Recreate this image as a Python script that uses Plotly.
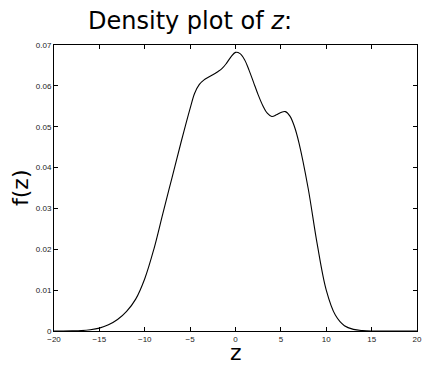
import plotly.graph_objects as go

# Estimated density f(z) sampled along z
z_vals = [-20, -19, -18, -17, -16, -15, -14, -13, -12, -11, -10, -9, -8, -7, -6,
          -5, -4.5, -4, -3.5, -3, -2.5, -2, -1.5, -1, -0.5, 0, 0.5, 1, 1.5, 2, 2.5,
          3, 3.5, 4, 4.5, 5, 5.5, 6, 6.5, 7, 8, 9, 10, 11, 12, 13, 14, 15, 16,
          17, 18, 19, 20]
f_vals = [0.0, 0.0, 0.00003, 0.0001, 0.0003, 0.0007, 0.0015, 0.0028, 0.0048, 0.0078,
          0.0128, 0.0200, 0.0288, 0.0375, 0.0462, 0.0545, 0.0582, 0.0603, 0.0614,
          0.0621, 0.0627, 0.0634, 0.0642, 0.0655, 0.0671, 0.0682, 0.0679, 0.0664,
          0.0638, 0.0608, 0.0578, 0.0552, 0.0533, 0.0525, 0.0529, 0.0535, 0.0537,
          0.0526, 0.0500, 0.0460, 0.0350, 0.0213, 0.0100, 0.0039, 0.0013, 0.0004,
          0.0001, 0.0, 0.0, 0.0, 0.0, 0.0, 0.0]

x_ticks = [-20, -15, -10, -5, 0, 5, 10, 15, 20]
y_ticks = [0, 0.01, 0.02, 0.03, 0.04, 0.05, 0.06, 0.07]
y_tick_text = ["0", "0.01", "0.02", "0.03", "0.04", "0.05", "0.06", "0.07"]
x_tick_text = ["\u221220", "\u221215", "\u221210", "\u22125", "0", "5", "10", "15", "20"]

W, H = 422, 365
ML, MR, MT, MB = 54, 5, 45, 34
plot_w = W - ML - MR
plot_h = H - MT - MB


def px_x(px):
    return (px - ML) / plot_w


def px_y(py):
    return (H - MB - py) / plot_h


fig = go.Figure()
fig.add_trace(go.Scatter(
    x=z_vals, y=f_vals, mode="lines",
    line=dict(color="black", width=1.1, shape="spline", smoothing=1.0),
    showlegend=False, hoverinfo="skip",
))

axis_common = dict(
    showgrid=False, zeroline=False, showline=True, linecolor="black", linewidth=1,
    mirror="ticks", ticks="inside", ticklen=4, tickcolor="black", tickwidth=1,
    automargin=False,
    tickfont=dict(family="Liberation Sans, Arial, sans-serif", size=8, color="#222"),
)

label_font = dict(family="DejaVu Sans, sans-serif", size=22, color="black")

fig.update_layout(
    width=W, height=H,
    margin=dict(l=ML, r=MR, t=MT, b=MB),
    paper_bgcolor="white", plot_bgcolor="white",
    xaxis=dict(range=[-20, 20], tickvals=x_ticks, ticktext=x_tick_text, **axis_common),
    yaxis=dict(range=[0, 0.07], tickvals=y_ticks, ticktext=y_tick_text, **axis_common),
    annotations=[
        dict(text="Density plot of <i>z</i>:", x=px_x(190), y=px_y(21),
             xref="paper", yref="paper", xanchor="center", yanchor="middle",
             showarrow=False,
             font=dict(family="DejaVu Sans, sans-serif", size=24, color="black")),
        dict(text="z", x=px_x(236), y=px_y(352), xref="paper", yref="paper",
             xanchor="center", yanchor="middle", showarrow=False, borderpad=0,
             font=label_font),
        dict(text="f(z)", x=px_x(20), y=px_y(188), xref="paper", yref="paper",
             xanchor="center", yanchor="middle", textangle=-90,
             showarrow=False, font=label_font),
    ],
)

fig.write_html("out.html")
